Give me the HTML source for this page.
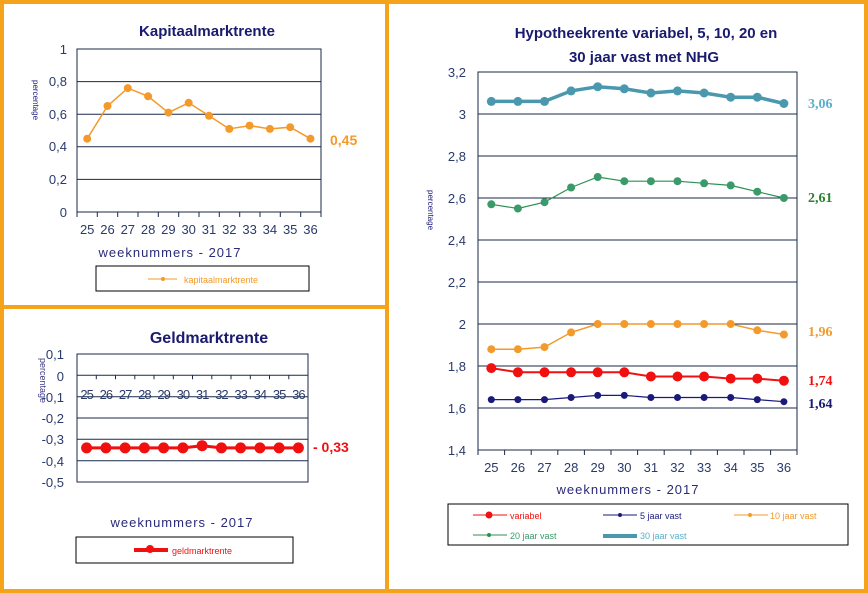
<!DOCTYPE html>
<html><head><meta charset="utf-8"><style>
html,body{margin:0;padding:0;background:#fff;width:868px;height:593px;overflow:hidden}
svg{display:block}
text{font-family:"Liberation Sans",sans-serif}
.t{font-family:"Liberation Sans",sans-serif;font-weight:bold;fill:#1a1a6e}
.ax{font-size:13px;fill:#2a3a6a}
.wk{font-family:"Liberation Sans",sans-serif;font-size:13px;fill:#2a2a7a;letter-spacing:1px}
.rv{font-family:"Liberation Serif",serif;font-weight:bold;font-size:14px}
</style></head><body>
<svg width="868" height="593" viewBox="0 0 868 593" xmlns="http://www.w3.org/2000/svg">
<rect x="0" y="0" width="868" height="593" fill="#fff"/>
<g fill="#f5a31a">
<rect x="0" y="0" width="868" height="4"/>
<rect x="0" y="589" width="868" height="4"/>
<rect x="0" y="0" width="4" height="593"/>
<rect x="864" y="0" width="4" height="593"/>
<rect x="385" y="0" width="4" height="593"/>
<rect x="0" y="305" width="387" height="4"/>
</g>

<!-- Kapitaalmarktrente -->
<text class="t" x="207" y="36" font-size="15" text-anchor="middle">Kapitaalmarktrente</text>
<g stroke="#1a2a4a" stroke-width="1" fill="none">
<rect x="77" y="49" width="244" height="163"/>
<line x1="77" y1="81.6" x2="321" y2="81.6"/>
<line x1="77" y1="114.2" x2="321" y2="114.2"/>
<line x1="77" y1="146.8" x2="321" y2="146.8"/>
<line x1="77" y1="179.4" x2="321" y2="179.4"/>
<path d="M77 212v5M97.3 212v5M117.7 212v5M138 212v5M158.3 212v5M178.7 212v5M199 212v5M219.3 212v5M239.7 212v5M260 212v5M280.3 212v5M300.7 212v5M321 212v5"/>
</g>
<g class="ax" text-anchor="end">
<text x="67" y="54">1</text><text x="67" y="86">0,8</text><text x="67" y="119">0,6</text><text x="67" y="151">0,4</text><text x="67" y="184">0,2</text><text x="67" y="217">0</text>
</g>
<g class="ax" text-anchor="middle">
<text x="87.2" y="234">25</text><text x="107.5" y="234">26</text><text x="127.8" y="234">27</text><text x="148.1" y="234">28</text><text x="168.4" y="234">29</text><text x="188.7" y="234">30</text><text x="209" y="234">31</text><text x="229.3" y="234">32</text><text x="249.6" y="234">33</text><text x="269.9" y="234">34</text><text x="290.2" y="234">35</text><text x="310.5" y="234">36</text>
</g>
<text class="wk" x="170" y="257" text-anchor="middle">weeknummers - 2017</text>
<g fill="#1a1a7a" font-size="8"><text x="33" y="80" transform="rotate(90 33 80)">percentage</text></g>
<polyline fill="none" stroke="#f39a2a" stroke-width="1.5" points="87.2,138.7 107.5,106 127.8,88.1 148.1,96.3 168.4,112.6 188.7,102.8 209,115.8 229.3,128.9 249.6,125.6 269.9,128.9 290.2,127.2 310.5,138.7"/>
<g fill="#f39a2a">
<circle cx="87.2" cy="138.7" r="4"/><circle cx="107.5" cy="106" r="4"/><circle cx="127.8" cy="88.1" r="4"/><circle cx="148.1" cy="96.3" r="4"/><circle cx="168.4" cy="112.6" r="4"/><circle cx="188.7" cy="102.8" r="4"/><circle cx="209" cy="115.8" r="4"/><circle cx="229.3" cy="128.9" r="4"/><circle cx="249.6" cy="125.6" r="4"/><circle cx="269.9" cy="128.9" r="4"/><circle cx="290.2" cy="127.2" r="4"/><circle cx="310.5" cy="138.7" r="4"/>
</g>
<text x="330" y="145" font-size="14" font-weight="bold" fill="#f39a2a">0,45</text>
<rect x="96" y="266" width="213" height="25" fill="none" stroke="#000" stroke-width="1"/>
<line x1="148" y1="279" x2="177" y2="279" stroke="#f39a2a"/><circle cx="163" cy="279" r="2" fill="#f39a2a"/>
<text x="184" y="283" font-size="9" fill="#f39a2a">kapitaalmarktrente</text>

<!-- Geldmarktrente -->
<text class="t" x="209" y="343" font-size="16" text-anchor="middle">Geldmarktrente</text>
<g stroke="#1a2a4a" stroke-width="1" fill="none">
<rect x="77" y="354" width="231" height="128"/>
<line x1="77" y1="375.3" x2="308" y2="375.3"/>
<line x1="77" y1="396.7" x2="308" y2="396.7"/>
<line x1="77" y1="418" x2="308" y2="418"/>
<line x1="77" y1="439.3" x2="308" y2="439.3"/>
<line x1="77" y1="460.7" x2="308" y2="460.7"/>
<path d="M96.3 375.3v4M115.5 375.3v4M134.8 375.3v4M154 375.3v4M173.3 375.3v4M192.5 375.3v4M211.8 375.3v4M231 375.3v4M250.3 375.3v4M269.5 375.3v4M288.8 375.3v4"/>
</g>
<g class="ax" text-anchor="end">
<text x="64" y="359">0,1</text><text x="64" y="381">0</text><text x="64" y="402">-0,1</text><text x="64" y="423">-0,2</text><text x="64" y="444">-0,3</text><text x="64" y="466">-0,4</text><text x="64" y="487">-0,5</text>
</g>
<g class="ax" text-anchor="middle" letter-spacing="-1">
<text x="86.6" y="399">25</text><text x="105.9" y="399">26</text><text x="125.1" y="399">27</text><text x="144.4" y="399">28</text><text x="163.6" y="399">29</text><text x="182.9" y="399">30</text><text x="202.1" y="399">31</text><text x="221.4" y="399">32</text><text x="240.6" y="399">33</text><text x="259.9" y="399">34</text><text x="279.1" y="399">35</text><text x="298.4" y="399">36</text>
</g>
<g fill="#3a3a8a" font-size="9"><text x="40" y="358" transform="rotate(90 40 358)">percentage</text></g>
<text class="wk" x="182" y="527" text-anchor="middle">weeknummers - 2017</text>
<polyline fill="none" stroke="#f01010" stroke-width="3" points="86.6,447.9 105.9,447.9 125.1,447.9 144.4,447.9 163.6,447.9 182.9,447.9 202.1,445.7 221.4,447.9 240.6,447.9 259.9,447.9 279.1,447.9 298.4,447.9"/>
<g fill="#f01010">
<circle cx="86.6" cy="447.9" r="5.5"/><circle cx="105.9" cy="447.9" r="5.5"/><circle cx="125.1" cy="447.9" r="5.5"/><circle cx="144.4" cy="447.9" r="5.5"/><circle cx="163.6" cy="447.9" r="5.5"/><circle cx="182.9" cy="447.9" r="5.5"/><circle cx="202.1" cy="445.7" r="5.5"/><circle cx="221.4" cy="447.9" r="5.5"/><circle cx="240.6" cy="447.9" r="5.5"/><circle cx="259.9" cy="447.9" r="5.5"/><circle cx="279.1" cy="447.9" r="5.5"/><circle cx="298.4" cy="447.9" r="5.5"/>
</g>
<text x="313" y="452" font-size="14" font-weight="bold" fill="#f01010">- 0,33</text>
<rect x="76" y="537" width="217" height="26" fill="none" stroke="#000" stroke-width="1"/>
<line x1="134" y1="550" x2="168" y2="550" stroke="#f01010" stroke-width="4"/><circle cx="150" cy="549" r="4" fill="#f01010"/>
<text x="172" y="554" font-size="9" fill="#f01010">geldmarktrente</text>

<!-- Hypotheekrente -->
<text class="t" x="646" y="38" font-size="15" text-anchor="middle">Hypotheekrente variabel, 5, 10, 20 en</text>
<text class="t" x="644" y="62" font-size="15" text-anchor="middle">30 jaar vast met NHG</text>
<g stroke="#1a2a4a" stroke-width="1" fill="none">
<rect x="478" y="72" width="319" height="378"/>
<line x1="478" y1="114" x2="797" y2="114"/><line x1="478" y1="156" x2="797" y2="156"/><line x1="478" y1="198" x2="797" y2="198"/><line x1="478" y1="240" x2="797" y2="240"/><line x1="478" y1="282" x2="797" y2="282"/><line x1="478" y1="324" x2="797" y2="324"/><line x1="478" y1="366" x2="797" y2="366"/><line x1="478" y1="408" x2="797" y2="408"/>
<path d="M478 450v5M504.6 450v5M531.2 450v5M557.8 450v5M584.4 450v5M611 450v5M637.6 450v5M664.2 450v5M690.8 450v5M717.4 450v5M744 450v5M770.6 450v5M797 450v5"/>
</g>
<g class="ax" text-anchor="end">
<text x="466" y="77">3,2</text><text x="466" y="119">3</text><text x="466" y="161">2,8</text><text x="466" y="203">2,6</text><text x="466" y="245">2,4</text><text x="466" y="287">2,2</text><text x="466" y="329">2</text><text x="466" y="371">1,8</text><text x="466" y="413">1,6</text><text x="466" y="455">1,4</text>
</g>
<g class="ax" text-anchor="middle">
<text x="491.3" y="472">25</text><text x="517.9" y="472">26</text><text x="544.5" y="472">27</text><text x="571.1" y="472">28</text><text x="597.7" y="472">29</text><text x="624.3" y="472">30</text><text x="650.9" y="472">31</text><text x="677.5" y="472">32</text><text x="704.1" y="472">33</text><text x="730.7" y="472">34</text><text x="757.3" y="472">35</text><text x="783.9" y="472">36</text>
</g>
<g fill="#1a1a7a" font-size="8"><text x="428" y="190" transform="rotate(90 428 190)">percentage</text></g>
<text class="wk" x="628" y="494" text-anchor="middle">weeknummers - 2017</text>

<polyline fill="none" stroke="#4a98ae" stroke-width="3.5" points="491.3,101.4 517.9,101.4 544.5,101.4 571.1,90.9 597.7,86.7 624.3,88.8 650.9,93 677.5,90.9 704.1,93 730.7,97.2 757.3,97.2 783.9,103.5"/>
<g fill="#4a98ae">
<circle cx="491.3" cy="101.4" r="4.5"/><circle cx="517.9" cy="101.4" r="4.5"/><circle cx="544.5" cy="101.4" r="4.5"/><circle cx="571.1" cy="90.9" r="4.5"/><circle cx="597.7" cy="86.7" r="4.5"/><circle cx="624.3" cy="88.8" r="4.5"/><circle cx="650.9" cy="93" r="4.5"/><circle cx="677.5" cy="90.9" r="4.5"/><circle cx="704.1" cy="93" r="4.5"/><circle cx="730.7" cy="97.2" r="4.5"/><circle cx="757.3" cy="97.2" r="4.5"/><circle cx="783.9" cy="103.5" r="4.5"/>
</g>
<polyline fill="none" stroke="#2a9050" stroke-width="1.2" points="491.3,204.3 517.9,208.5 544.5,202.2 571.1,187.5 597.7,177 624.3,181.2 650.9,181.2 677.5,181.2 704.1,183.3 730.7,185.4 757.3,191.7 783.9,198"/>
<g fill="#3a9a6a">
<circle cx="491.3" cy="204.3" r="4"/><circle cx="517.9" cy="208.5" r="4"/><circle cx="544.5" cy="202.2" r="4"/><circle cx="571.1" cy="187.5" r="4"/><circle cx="597.7" cy="177" r="4"/><circle cx="624.3" cy="181.2" r="4"/><circle cx="650.9" cy="181.2" r="4"/><circle cx="677.5" cy="181.2" r="4"/><circle cx="704.1" cy="183.3" r="4"/><circle cx="730.7" cy="185.4" r="4"/><circle cx="757.3" cy="191.7" r="4"/><circle cx="783.9" cy="198" r="4"/>
</g>
<polyline fill="none" stroke="#f39a2a" stroke-width="1.5" points="491.3,349.2 517.9,349.2 544.5,347.1 571.1,332.4 597.7,324 624.3,324 650.9,324 677.5,324 704.1,324 730.7,324 757.3,330.3 783.9,334.5"/>
<g fill="#f39a2a">
<circle cx="491.3" cy="349.2" r="4"/><circle cx="517.9" cy="349.2" r="4"/><circle cx="544.5" cy="347.1" r="4"/><circle cx="571.1" cy="332.4" r="4"/><circle cx="597.7" cy="324" r="4"/><circle cx="624.3" cy="324" r="4"/><circle cx="650.9" cy="324" r="4"/><circle cx="677.5" cy="324" r="4"/><circle cx="704.1" cy="324" r="4"/><circle cx="730.7" cy="324" r="4"/><circle cx="757.3" cy="330.3" r="4"/><circle cx="783.9" cy="334.5" r="4"/>
</g>
<polyline fill="none" stroke="#f01010" stroke-width="2" points="491.3,368.1 517.9,372.3 544.5,372.3 571.1,372.3 597.7,372.3 624.3,372.3 650.9,376.5 677.5,376.5 704.1,376.5 730.7,378.6 757.3,378.6 783.9,380.7"/>
<g fill="#f01010">
<circle cx="491.3" cy="368.1" r="5"/><circle cx="517.9" cy="372.3" r="5"/><circle cx="544.5" cy="372.3" r="5"/><circle cx="571.1" cy="372.3" r="5"/><circle cx="597.7" cy="372.3" r="5"/><circle cx="624.3" cy="372.3" r="5"/><circle cx="650.9" cy="376.5" r="5"/><circle cx="677.5" cy="376.5" r="5"/><circle cx="704.1" cy="376.5" r="5"/><circle cx="730.7" cy="378.6" r="5"/><circle cx="757.3" cy="378.6" r="5"/><circle cx="783.9" cy="380.7" r="5"/>
</g>
<polyline fill="none" stroke="#1a1a7a" stroke-width="1.2" points="491.3,399.6 517.9,399.6 544.5,399.6 571.1,397.5 597.7,395.4 624.3,395.4 650.9,397.5 677.5,397.5 704.1,397.5 730.7,397.5 757.3,399.6 783.9,401.7"/>
<g fill="#1a1a7a">
<circle cx="491.3" cy="399.6" r="3.5"/><circle cx="517.9" cy="399.6" r="3.5"/><circle cx="544.5" cy="399.6" r="3.5"/><circle cx="571.1" cy="397.5" r="3.5"/><circle cx="597.7" cy="395.4" r="3.5"/><circle cx="624.3" cy="395.4" r="3.5"/><circle cx="650.9" cy="397.5" r="3.5"/><circle cx="677.5" cy="397.5" r="3.5"/><circle cx="704.1" cy="397.5" r="3.5"/><circle cx="730.7" cy="397.5" r="3.5"/><circle cx="757.3" cy="399.6" r="3.5"/><circle cx="783.9" cy="401.7" r="3.5"/>
</g>
<g>
<text class="rv" x="808" y="108" fill="#5ab0c8">3,06</text>
<text class="rv" x="808" y="202" fill="#2a8030">2,61</text>
<text class="rv" x="808" y="336" fill="#f39a2a">1,96</text>
<text class="rv" x="808" y="385" fill="#f01010">1,74</text>
<text class="rv" x="808" y="408" fill="#1a1a6e">1,64</text>
</g>
<rect x="448" y="504" width="400" height="41" fill="none" stroke="#000" stroke-width="1"/>
<g font-size="9">
<line x1="473" y1="515" x2="507" y2="515" stroke="#f01010"/><circle cx="489" cy="515" r="3.5" fill="#f01010"/><text x="510" y="519" fill="#f01010">variabel</text>
<line x1="603" y1="515" x2="637" y2="515" stroke="#1a1a7a"/><circle cx="620" cy="515" r="2" fill="#1a1a7a"/><text x="640" y="519" fill="#1a1a7a">5 jaar vast</text>
<line x1="734" y1="515" x2="768" y2="515" stroke="#f39a2a"/><circle cx="750" cy="515" r="2" fill="#f39a2a"/><text x="770" y="519" fill="#f39a2a">10 jaar vast</text>
<line x1="473" y1="535" x2="507" y2="535" stroke="#2a9050"/><circle cx="489" cy="535" r="2" fill="#2a9050"/><text x="510" y="539" fill="#3a9a6a">20 jaar vast</text>
<line x1="603" y1="536" x2="637" y2="536" stroke="#4a98ae" stroke-width="4"/><text x="640" y="539" fill="#5ab0c8">30 jaar vast</text>
</g>
</svg>
</body></html>
